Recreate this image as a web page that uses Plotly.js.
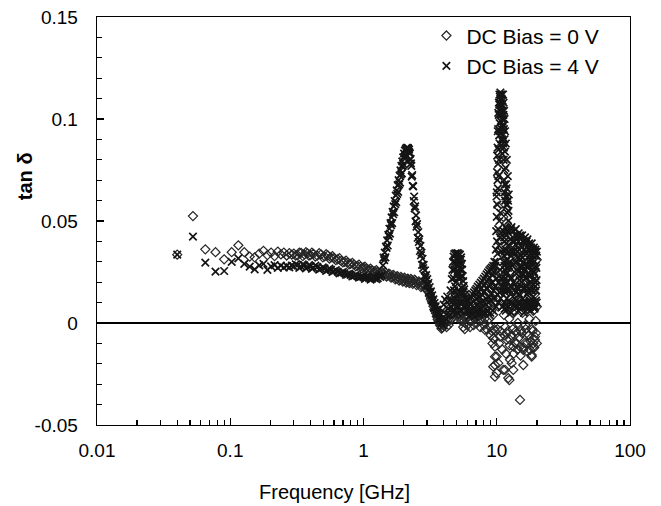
<!DOCTYPE html>
<html>
<head>
<meta charset="utf-8">
<script src="https://cdn.plot.ly/plotly-3.0.1.min.js"></script>
<style>html,body{margin:0;padding:0;background:#fff;}#chart{width:661px;height:506px;}</style>
</head>
<body>
<div id="chart"></div>
<script>
// ---- DC Bias = 0 V (diamonds) ----
var freq0Low = [0.04,0.0525,0.065,0.0775,0.09,0.1025,0.115,0.1275,0.14,0.1525,0.165,0.1775,0.19,0.2025,0.215,0.2275,0.24,0.2525,0.265,0.2775,0.29];
var tan0Low  = [0.0335,0.0524,0.0361,0.0347,0.0312,0.0347,0.0381,0.0347,0.0325,0.0322,0.0340,0.0354,0.0333,0.0345,0.0328,0.0350,0.0336,0.0345,0.0331,0.0342,0.0335];
var freq0Mid = [0.30,0.32,0.34,0.36,0.38,0.40,0.42,0.45,0.48,0.51,0.54,0.57,0.60,0.64,0.68,0.72,0.76,0.80,0.85,0.90,0.95,1.00,1.05,1.10,1.16,1.22,1.28,1.34,1.40,
                0.31,0.33,0.35,0.37,0.39,0.41,0.435,0.465,0.495,0.525,0.555,0.585,0.62,0.66,0.70,0.74,0.78,0.825,0.875,0.925,0.975,1.025,1.075,1.13,1.19,1.25,1.31,1.37];
var tan0Mid  = [0.0340,0.0332,0.0344,0.0336,0.0341,0.0333,0.0339,0.0330,0.0336,0.0327,0.0331,0.0322,0.0318,0.0312,0.0305,0.0300,0.0296,0.0290,0.0286,0.0280,0.0276,0.0272,0.0268,0.0262,0.0258,0.0254,0.0250,0.0247,0.0244,
                0.0330,0.0345,0.0328,0.0347,0.0330,0.0345,0.0326,0.0342,0.0322,0.0337,0.0316,0.0328,0.0308,0.0318,0.0297,0.0306,0.0287,0.0295,0.0278,0.0286,0.0268,0.0276,0.0258,0.0266,0.0249,0.0259,0.0241,0.0252];
var freq0Res = [1.46,1.52,1.58,1.64,1.70,1.76,1.82,1.88,1.94,2.00,2.06,2.12,2.18,2.24,2.30,2.38,2.46,2.55,2.65,2.75,2.86,2.98,3.10,3.20,3.30,3.40,3.50,3.60,3.70,3.80,3.90,4.00,
                1.49,1.55,1.61,1.67,1.73,1.79,1.85,1.91,1.97,2.03,2.09,2.15,2.21,2.27,2.34,2.42,2.50,2.60,2.70,2.80,2.92,3.04,3.15,3.25,3.35,3.45,3.55,3.65,3.75,3.85];
var tan0Res  = [0.0247,0.0233,0.0238,0.0225,0.0231,0.0219,0.0226,0.0213,0.0220,0.0208,0.0216,0.0204,0.0213,0.0201,0.0210,0.0197,0.0206,0.0192,0.0198,0.0181,0.0184,0.0163,0.0150,0.0118,0.0098,0.0066,0.0048,0.0018,0.0006,-0.0015,-0.0022,-0.0012,
                0.0228,0.0242,0.0222,0.0236,0.0214,0.0230,0.0208,0.0226,0.0203,0.0222,0.0198,0.0218,0.0195,0.0216,0.0192,0.0212,0.0186,0.0204,0.0176,0.0192,0.0170,0.0158,0.0132,0.0108,0.0082,0.0058,0.0032,0.0010,-0.0010,-0.0028];
var freq0Hi  = [4.1,4.2,4.3,4.4,4.5,4.6,4.7,4.8,4.9,5.0,5.1,5.2,5.3,5.4,5.5,5.6,5.7,5.8,5.9,6.0,6.2,6.4,6.6,6.8,7.0,7.2,7.4,7.6,7.8,8.0,8.2,8.4,8.6,8.8,9.0,9.2,9.4,9.5,9.6,
                4.15,4.25,4.35,4.45,4.55,4.65,4.75,4.85,4.95,5.05,5.15,5.25,5.35,5.45,5.55,5.65,5.75,5.85,5.95,6.1,6.3,6.5,6.7,6.9,7.1,7.3,7.5,7.7,7.9,8.1,8.3,8.5,8.7,8.9,9.1,9.3];
var tan0Hi   = [0.0005,-0.002,0.003,0.001,0.006,0.002,0.009,0.004,0.011,0.006,0.010,0.003,0.008,0.001,0.005,-0.002,0.003,0.000,0.004,-0.001,0.005,0.001,0.006,0.002,0.008,0.003,0.009,0.001,0.007,-0.001,0.005,-0.003,0.006,0.002,0.009,-0.004,0.004,-0.0075,0.010,
                0.004,0.001,-0.001,0.004,0.008,0.005,0.012,0.007,0.014,0.009,0.005,0.012,0.004,0.009,0.002,0.006,-0.003,0.002,0.006,0.003,-0.002,0.004,-0.001,0.005,0.000,0.006,-0.002,0.004,0.008,0.002,0.007,0.001,0.010,-0.002,0.006,0.012];
var freq0Top = [8.16,9.42,9.42,9.70,9.70,9.70,9.70,9.70,9.85,9.99,9.99,10.27,10.27,10.27,10.58,10.58,10.89,11.20,11.20,11.20,11.20,11.53,11.53,11.87,11.87,11.87,11.87,12.20,12.43,12.58,12.58,12.95,13.31,13.31,13.31,13.70,14.11,14.11,14.11,14.95,14.95,14.95,15.82,15.82,16.30,16.78,16.78,17.77,17.77,18.30,18.30,18.80,18.80,19.36,19.36,19.94];
var tan0Top  = [-0.0034,-0.0075,-0.0214,-0.0040,-0.0116,-0.0165,-0.0206,-0.0263,0.0150,-0.0245,-0.0165,-0.0197,0.0080,0.0570,-0.0067,0.0210,0.0195,0.0227,0.0520,0.0113,-0.0230,-0.0230,0.0178,-0.0083,-0.0050,0.0490,0.0147,-0.0270,-0.0280,-0.0180,-0.0083,-0.0197,-0.0230,-0.0116,0.0048,-0.0097,-0.0100,-0.0050,0.0310,-0.0377,-0.0116,0.0360,-0.0206,-0.0132,-0.0097,-0.0100,-0.0050,-0.0132,0.0374,-0.0157,-0.0165,-0.0116,-0.0100,-0.0083,-0.0067,0.0310];
var freq0Blk = [11.3,11.6,12.0,12.4,12.8,13.2,13.6,14.0,14.4,14.8,15.2,15.6,16.0,16.4,16.8,17.2,17.6,18.0,18.4,18.8,19.2,19.6,20.0,
                9.0,9.3,9.6,10.1,10.4,10.7,11.0,11.4,11.7,12.1,12.5,12.9,13.4,13.9,14.3,14.7,15.1,15.5,15.9,16.5,17.0,17.4,17.9,18.6,19.1,19.7,20.0];
var tan0Blk  = [0.004,-0.002,0.008,0.002,0.012,-0.003,0.006,0.015,0.000,0.009,-0.004,0.005,0.013,-0.001,0.007,0.018,0.002,0.010,-0.003,0.006,0.014,0.001,0.008,
                -0.006,-0.010,-0.003,-0.003,-0.010,-0.004,-0.013,-0.006,-0.015,-0.004,-0.011,-0.006,-0.015,-0.004,-0.013,-0.007,-0.016,-0.005,-0.012,-0.003,-0.014,-0.006,-0.009,-0.004,-0.012,-0.005,-0.010];

// ---- DC Bias = 4 V (crosses) ----
var freq4Low = [0.04,0.0525,0.065,0.0775,0.09,0.1025,0.115,0.1275,0.14,0.1525,0.165,0.1775,0.19,0.2025,0.215,0.2275,0.24,0.2525,0.265,0.2775,0.29];
var tan4Low  = [0.0335,0.0423,0.0296,0.0252,0.0255,0.0300,0.0317,0.0290,0.0276,0.0263,0.0282,0.0290,0.0260,0.0278,0.0284,0.0270,0.0281,0.0272,0.0280,0.0273,0.0281];
var freq4Mid = [0.30,0.32,0.34,0.36,0.38,0.40,0.42,0.45,0.48,0.51,0.54,0.57,0.60,0.64,0.68,0.72,0.76,0.80,0.85,0.90,0.95,1.00,1.05,1.10,1.16,1.22,1.28,1.34,1.37,
                0.31,0.33,0.35,0.37,0.39,0.41,0.435,0.465,0.495,0.525,0.555,0.585,0.62,0.66,0.70,0.74,0.78,0.825,0.875,0.925,0.975,1.025,1.075,1.13,1.19,1.25,1.31];
var tan4Mid  = [0.0277,0.0283,0.0276,0.0282,0.0274,0.0279,0.0271,0.0275,0.0266,0.0268,0.0260,0.0261,0.0254,0.0252,0.0246,0.0244,0.0238,0.0236,0.0231,0.0230,0.0226,0.0225,0.0221,0.0221,0.0218,0.0219,0.0220,0.0226,0.0235,
                0.0288,0.0270,0.0287,0.0268,0.0284,0.0266,0.0281,0.0262,0.0273,0.0255,0.0267,0.0250,0.0259,0.0243,0.0251,0.0236,0.0242,0.0228,0.0236,0.0222,0.0229,0.0216,0.0226,0.0213,0.0224,0.0215,0.0230];
var freq4Pk  = [1.40,1.43,1.46,1.49,1.52,1.55,1.58,1.61,1.64,1.67,1.70,1.73,1.76,1.79,1.82,1.85,1.88,1.91,1.94,1.97,2.00,2.03,2.06,2.09,2.12,2.15,2.18,2.21,2.24,2.27,2.30,2.34,2.38,2.42,2.46,2.50,2.55,2.60,2.65,2.70,2.75,2.80,2.86,2.92,2.98,3.04,3.10,3.17,3.24,3.31,3.38,3.45,3.52,3.60,3.68,3.76,
                1.415,1.445,1.475,1.505,1.535,1.565,1.595,1.625,1.655,1.685,1.715,1.745,1.775,1.805,1.835,1.865,1.895,1.925,1.955,1.985,2.015,2.045,2.075,2.105,
                2.165,2.195,2.225,2.255,2.285,2.32,2.36,2.40,2.44,2.48,2.525,2.575,2.625,2.675,2.725,2.775,2.83,2.89,2.95,3.01,3.07,3.135,3.205,3.275,3.345,3.415,3.485,3.56,3.64,3.72];
var tan4Pk   = [0.0282,0.0308,0.0322,0.0368,0.0380,0.0425,0.0438,0.0480,0.0490,0.0533,0.0543,0.0583,0.0593,0.0633,0.0643,0.0680,0.0688,0.0728,0.0733,0.0770,0.0778,0.0815,0.0820,0.0850,0.0855,0.0858,0.0840,0.0836,0.0800,0.0782,0.0718,0.0672,0.0598,0.0562,0.0498,0.0472,0.0418,0.0397,0.0353,0.0332,0.0285,0.0269,0.0231,0.0222,0.0189,0.0187,0.0153,0.0147,0.0113,0.0107,0.0078,0.0077,0.0048,0.0047,0.0018,0.0019,
                0.0320,0.0345,0.0375,0.0405,0.0432,0.0462,0.0490,0.0518,0.0545,0.0572,0.0598,0.0625,0.0650,0.0676,0.0700,0.0723,0.0748,0.0770,0.0792,0.0812,0.0830,0.0845,0.0852,0.0858,
                0.0855,0.0850,0.0830,0.0805,0.0770,0.0725,0.0670,0.0620,0.0572,0.0528,0.0485,0.0445,0.0410,0.0378,0.0345,0.0315,0.0285,0.0258,0.0235,0.0215,0.0196,0.0176,0.0155,0.0135,0.0116,0.0098,0.0082,0.0066,0.0050,0.0035];
var freq4Mw  = [3.85,3.90,3.94,4.00,4.03,4.10,4.12,4.21,4.25,4.30,4.40,4.45,4.50,4.55,4.60,4.65,4.68,4.70,4.75,4.78,4.80,4.85,4.88,4.90,4.95,4.98,5.00,5.05,5.08,5.10,5.15,5.18,5.20,5.25,5.28,5.30,5.35,5.38,5.40,5.45,5.48,5.50,5.55,5.60,5.65,5.70,5.75,5.80,5.90,5.95,6.00,6.15,6.22,6.30,6.45,6.52,6.60,6.75,6.82,6.90,7.05,7.12,7.20,7.30,7.40,7.50,7.60,7.70,7.80,7.90,8.00,8.10,8.20,8.30,8.40,8.50,8.60,8.70,8.80,8.90,9.00,9.10,9.20,9.30,9.40,9.50,9.60,
                4.72,4.76,4.82,4.84,4.87,4.92,4.94,4.97,5.02,5.04,5.07,5.12,5.14,5.17,5.22,5.24,5.27,5.32,5.34,5.37,5.42,5.44,5.47,5.52,5.57,5.62,5.67,
                6.07,6.37,6.67,6.97,7.25,7.45,7.65,7.85,8.05,8.25,8.45,8.65,8.85,9.05,9.25,9.45,9.55,9.35,8.95,8.55,8.15,7.75,7.35,
                6.25,6.55,6.85,7.15,7.55,7.95,8.35,8.75,9.15];
var tan4Mw   = [0.0002,0.0060,-0.0012,0.0090,0.0005,0.0115,0.0020,0.0042,0.0130,0.0072,0.0110,0.0040,0.0160,0.0080,0.0215,0.0260,0.0110,0.0300,0.0325,0.0160,0.0338,0.0120,0.0300,0.0342,0.0200,0.0280,0.0340,0.0080,0.0255,0.0343,0.0160,0.0290,0.0338,0.0100,0.0270,0.0335,0.0220,0.0310,0.0322,0.0140,0.0290,0.0262,0.0230,0.0205,0.0182,0.0165,0.0080,0.0142,0.0125,0.0060,0.0115,0.0110,0.0055,0.0118,0.0128,0.0065,0.0140,0.0150,0.0075,0.0160,0.0168,0.0090,0.0178,0.0125,0.0188,0.0100,0.0198,0.0140,0.0208,0.0110,0.0218,0.0155,0.0228,0.0120,0.0238,0.0170,0.0248,0.0130,0.0258,0.0190,0.0265,0.0140,0.0272,0.0200,0.0280,0.0160,0.0300,
                0.006,0.022,0.026,0.004,0.018,0.029,0.010,0.024,0.014,0.031,0.005,0.022,0.028,0.008,0.024,0.015,0.031,0.006,0.026,0.012,0.023,0.006,0.017,0.010,0.015,0.008,0.012,
                0.0085,0.0090,0.0105,0.0120,0.0150,0.0065,0.0170,0.0080,0.0185,0.0090,0.0205,0.0100,0.0220,0.0110,0.0235,0.0120,0.0250,0.0060,0.0050,0.0055,0.0050,0.0045,0.0040,
                0.0035,0.0045,0.0030,0.0060,0.0125,0.0150,0.0170,0.0180,0.0195];
var freq4Sp  = [9.90,9.95,10.00,10.05,10.10,10.15,10.20,10.25,10.30,10.35,10.40,10.45,10.50,10.55,10.60,10.65,10.70,10.75,10.80,10.85,10.90,10.95,11.00,11.05,11.10,11.15,11.20,11.25,11.30,11.35,11.40,11.45,11.50,11.55,11.60,11.70,11.80,11.90,12.00,12.10,12.20,12.30,
                9.75,9.85,9.95,10.05,10.15,10.25,10.35,10.45,10.55,10.65,10.75,10.85,
                9.65,9.80,9.90,10.00,10.10,10.20,10.30,10.40,10.50,10.60,10.70,10.80,10.90,11.00,11.10,
                10.02,10.07,10.12,10.17,10.22,10.27,10.32,10.37,10.42,10.47,10.52,10.57,10.62,10.67,10.72,10.77,10.82,10.87,10.92,10.97,11.02,11.07,11.12,11.17,11.22,11.27,11.32,11.37,11.42,11.47,11.52,11.57,11.65,11.75,11.85,11.95,12.05,12.15,12.25];
var tan4Sp   = [0.045,0.062,0.052,0.074,0.058,0.086,0.066,0.095,0.072,0.102,0.080,0.107,0.088,0.111,0.094,0.113,0.099,0.112,0.090,0.110,0.100,0.107,0.083,0.109,0.092,0.112,0.097,0.108,0.086,0.104,0.075,0.100,0.068,0.094,0.062,0.088,0.058,0.080,0.054,0.072,0.050,0.063,
                0.028,0.036,0.030,0.040,0.034,0.046,0.038,0.050,0.042,0.054,0.044,0.035,
                0.012,0.018,0.008,0.022,0.014,0.025,0.010,0.020,0.015,0.026,0.012,0.022,0.016,0.008,0.018,
                0.064,0.082,0.070,0.094,0.078,0.103,0.085,0.108,0.092,0.112,0.098,0.104,0.108,0.105,0.110,0.102,0.106,0.095,0.112,0.090,0.104,0.096,0.100,0.088,0.102,0.080,0.095,0.070,0.090,0.064,0.084,0.060,0.076,0.068,0.066,0.062,0.058,0.060,0.055];
var freq4Blk = [11.25,11.30,11.35,11.40,11.45,11.50,11.55,11.60,11.65,11.70,11.75,11.80,11.85,11.90,11.95,12.00,12.10,12.20,12.30,12.40,12.50,12.60,12.70,12.80,12.90,13.00,13.10,13.20,13.30,13.40,13.50,13.60,13.70,13.80,13.90,14.00,14.10,14.20,14.30,14.40,14.50,14.60,14.70,14.80,14.90,15.00,15.10,15.20,15.30,15.40,15.50,15.60,15.70,15.80,15.90,16.00,16.10,16.20,16.30,16.40,16.50,16.60,16.70,16.80,16.90,17.00,17.10,17.20,17.30,17.40,17.50,17.60,17.70,17.80,17.90,18.00,18.10,18.20,18.30,18.40,18.50,18.60,18.70,18.80,18.90,19.00,19.10,19.20,19.30,19.40,19.50,19.60,19.70,19.80,19.90,20.00,
                11.27,11.33,11.38,11.43,11.48,11.53,11.58,11.63,11.68,11.73,11.78,11.83,11.88,11.93,11.98,12.05,12.15,12.25,12.35,12.45,12.55,12.65,12.75,12.85,12.95,13.05,13.15,13.25,13.35,13.45,13.55,13.65,13.75,13.85,13.95,14.05,14.15,14.25,14.35,14.45,14.55,14.65,14.75,14.85,14.95,15.05,15.15,15.25,15.35,15.45,15.55,15.65,15.75,15.85,15.95,16.05,16.15,16.25,16.35,16.45,16.55,16.65,16.75,16.85,16.95,17.05,17.15,17.25,17.35,17.45,17.55,17.65,17.75,17.85,17.95,18.05,18.15,18.25,18.35,18.45,18.55,18.65,18.75,18.85,18.95,19.05,19.15,19.25,19.35,19.45,19.55,19.65,19.75,19.85,19.95];
var tan4Blk  = [0.045,0.020,0.033,0.010,0.040,0.026,0.047,0.015,0.036,0.006,0.043,0.024,0.031,0.012,0.046,0.020,0.038,0.008,0.044,0.028,0.016,0.041,0.033,0.005,0.047,0.022,0.037,0.013,0.045,0.029,0.009,0.040,0.019,0.034,0.046,0.011,0.026,0.043,0.017,0.035,0.006,0.044,0.023,0.031,0.014,0.042,0.027,0.008,0.038,0.020,0.043,0.032,0.012,0.040,0.024,0.005,0.036,0.017,0.042,0.029,0.010,0.039,0.022,0.034,0.014,0.041,0.027,0.007,0.036,0.019,0.039,0.030,0.011,0.037,0.023,0.006,0.034,0.016,0.039,0.026,0.010,0.036,0.021,0.031,0.013,0.037,0.025,0.007,0.034,0.018,0.036,0.028,0.011,0.033,0.021,0.035,
                0.030,0.042,0.016,0.028,0.007,0.035,0.022,0.044,0.018,0.030,0.009,0.039,0.025,0.016,0.034,0.045,0.027,0.017,0.035,0.010,0.030,0.022,0.046,0.018,0.035,0.010,0.028,0.040,0.020,0.035,0.025,0.008,0.043,0.015,0.030,0.038,0.018,0.032,0.008,0.025,0.040,0.014,0.036,0.021,0.043,0.010,0.033,0.018,0.028,0.008,0.024,0.040,0.017,0.030,0.010,0.026,0.040,0.008,0.022,0.035,0.018,0.028,0.040,0.008,0.024,0.032,0.015,0.038,0.010,0.028,0.017,0.036,0.024,0.008,0.031,0.020,0.037,0.010,0.028,0.016,0.033,0.008,0.025,0.036,0.019,0.030,0.010,0.024,0.035,0.008,0.020,0.033,0.016,0.027,0.010];

// ---- labels ----
var seriesNames = ['DC Bias = 0 V', 'DC Bias = 4 V'];
var xTickVals = [0.01, 0.1, 1, 10, 100];
var xTickText = ['0.01', '0.1', '1', '10', '100'];
var xMinorVals = [0.02,0.03,0.04,0.05,0.06,0.07,0.08,0.09,0.2,0.3,0.4,0.5,0.6,0.7,0.8,0.9,2,3,4,5,6,7,8,9,20,30,40,50,60,70,80,90];
var yTickVals = [-0.05, 0, 0.05, 0.1, 0.15];
var yTickText = ['-0.05', '0', '0.05', '0.1', '0.15'];
var yMinorVals = [-0.04,-0.03,-0.02,-0.01,0.01,0.02,0.03,0.04,0.06,0.07,0.08,0.09,0.11,0.12,0.13,0.14];
var xTitle = 'Frequency [GHz]';
var yTitle = '<b>tan δ</b>';

var freq0 = [].concat(freq0Low, freq0Mid, freq0Res, freq0Hi, freq0Top, freq0Blk);
var tan0  = [].concat(tan0Low, tan0Mid, tan0Res, tan0Hi, tan0Top, tan0Blk);
var freq4 = [].concat(freq4Low, freq4Mid, freq4Pk, freq4Mw, freq4Sp, freq4Blk);
var tan4  = [].concat(tan4Low, tan4Mid, tan4Pk, tan4Mw, tan4Sp, tan4Blk);

var FONT = 'Liberation Sans, Arial, Helvetica, sans-serif';

var traces = [
  {x: freq0, y: tan0, name: seriesNames[0], type: 'scatter', mode: 'markers',
   marker: {symbol: 'diamond-open', size: 7, color: '#262626', line: {color: '#262626', width: 1.2}}},
  {x: freq4, y: tan4, name: seriesNames[1], type: 'scatter', mode: 'markers',
   marker: {symbol: 'x-thin-open', size: 7.5, color: '#151515', line: {color: '#151515', width: 1.7}}}
];

var layout = {
  width: 661, height: 506,
  margin: {l: 97, r: 31, t: 17, b: 81, pad: 0},
  paper_bgcolor: '#ffffff', plot_bgcolor: '#ffffff',
  font: {family: FONT, color: '#000', size: 19},
  showlegend: true,
  legend: {x: 0.618, xanchor: 'left', y: 1.004, yanchor: 'top', bgcolor: 'rgba(0,0,0,0)',
           font: {family: FONT, size: 21, color: '#000'}, itemwidth: 30, tracegroupgap: 0},
  xaxis: {type: 'log', range: [-2, 2], tickmode: 'array', tickvals: xTickVals, ticktext: xTickText,
          ticks: 'inside', ticklen: 7, tickwidth: 1.3, tickcolor: '#000',
          showline: true, linecolor: '#000', linewidth: 1.3, mirror: true,
          showgrid: false, zeroline: false, ticklabelstandoff: 8,
          tickfont: {family: FONT, size: 19, color: '#000'},
          minor: {tickmode: 'array', tickvals: xMinorVals, ticks: 'inside', ticklen: 5, tickwidth: 1.3, tickcolor: '#000', showgrid: false}},
  yaxis: {range: [-0.05, 0.15], tickmode: 'array', tickvals: yTickVals, ticktext: yTickText,
          ticks: 'inside', ticklen: 7, tickwidth: 1.3, tickcolor: '#000',
          showline: true, linecolor: '#000', linewidth: 1.3, mirror: true,
          showgrid: false, zeroline: true, zerolinecolor: '#000', zerolinewidth: 1.6,
          ticklabelstandoff: 14,
          tickfont: {family: FONT, size: 19, color: '#000'},
          minor: {tickmode: 'array', tickvals: yMinorVals, ticks: 'inside', ticklen: 5, tickwidth: 1.3, tickcolor: '#000', showgrid: false}},
  annotations: [
    {text: xTitle, xref: 'paper', yref: 'paper', x: 0.445, y: -0.165, xanchor: 'center', yanchor: 'middle',
     showarrow: false, font: {family: FONT, size: 20, color: '#000'}},
    {text: yTitle, xref: 'paper', yref: 'paper', x: -0.135, y: 0.61, xanchor: 'center', yanchor: 'middle',
     textangle: -90, showarrow: false, font: {family: FONT, size: 20, color: '#000'}}
  ]
};

Plotly.newPlot('chart', traces, layout, {displayModeBar: false, staticPlot: true});
</script>
</body>
</html>
